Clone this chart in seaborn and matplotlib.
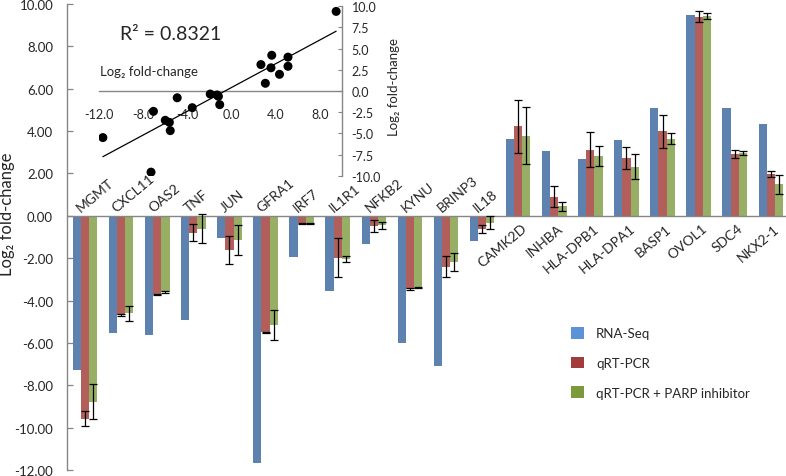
"""
RNA-Seq vs qRT-PCR fold-change validation
==========================================
Grouped bars with error bars plus an inset correlation scatter.
"""

import numpy as np
import pandas as pd
import matplotlib
matplotlib.use("Agg")
import matplotlib.pyplot as plt
from matplotlib.patches import Patch
import seaborn as sns

sns.set_style("white")
plt.rcParams["font.family"] = ["Lato", "DejaVu Sans"]

GENES = ["MGMT", "CXCL11", "OAS2", "TNF", "JUN", "GFRA1", "IRF7", "IL1R1",
         "NFKB2", "KYNU", "BRINP3", "IL18", "CAMK2D", "INHBA", "HLA-DPB1",
         "HLA-DPA1", "BASP1", "OVOL1", "SDC4", "NKX2-1"]

rna_seq = [-7.29, -5.55, -5.63, -4.92, -1.07, -11.65, -1.93, -3.56, -1.32, -6.00,
           -7.07, -1.19, 3.64, 3.06, 2.66, 3.57, 5.11, 9.47, 5.11, 4.34]
qpcr = [-9.58, -4.68, -3.70, -0.80, -1.61, -5.50, -0.36, -1.97, -0.47, -3.46,
        -2.40, -0.63, 4.22, 0.91, 3.12, 2.74, 4.00, 9.40, 2.92, 1.97]
qpcr_err = [0.36, 0.03, 0.03, 0.40, 0.67, 0.03, 0.03, 0.90, 0.28, 0.03,
            0.50, 0.18, 1.25, 0.48, 0.82, 0.52, 0.78, 0.25, 0.18, 0.13]
parp = [-8.78, -4.60, -3.60, -0.60, -1.14, -5.16, -0.36, -2.05, -0.45, -3.37,
        -2.19, -0.33, 3.79, 0.44, 2.81, 2.32, 3.65, 9.44, 2.95, 1.50]
parp_err = [0.83, 0.35, 0.03, 0.70, 0.70, 0.72, 0.02, 0.15, 0.15, 0.02,
            0.43, 0.30, 1.35, 0.23, 0.48, 0.58, 0.27, 0.13, 0.10, 0.45]

SERIES = ["RNA-Seq", "qRT-PCR", "qRT-PCR + PARP inhibitor"]
BAR_COLORS = ["#4F81BD", "#C0504D", "#9BBB59"]
LEGEND_COLORS = ["#5B93D6", "#A23C3A", "#7C9A3C"]
AXIS_GRAY = "#868686"

df = pd.DataFrame({
    "gene": GENES * 3,
    "series": np.repeat(SERIES, len(GENES)),
    "value": rna_seq + qpcr + parp,
})

fig = plt.figure(figsize=(7.86, 4.77), dpi=100)
ax = fig.add_axes([67 / 786, 6 / 477, 719 / 786, 466 / 477])

sns.barplot(data=df, x="gene", y="value", hue="series", order=GENES,
            hue_order=SERIES, palette=BAR_COLORS, width=0.68, linewidth=0,
            errorbar=None, legend=False, ax=ax)

# error bars on the two qRT-PCR series
for cont, vals, errs in [(ax.containers[1], qpcr, qpcr_err),
                         (ax.containers[2], parp, parp_err)]:
    xs = [p.get_x() + p.get_width() / 2 for p in cont.patches]
    ax.errorbar(xs, vals, yerr=errs, fmt="none", ecolor="black",
                elinewidth=0.9, capsize=2.6, capthick=0.9, zorder=5)

ax.axhline(0, color=AXIS_GRAY, lw=1.0, zorder=4)
ax.set_xlim(-0.5, 19.42)
ax.set_ylim(-12, 10)
ax.set_yticks(np.arange(-12, 10.1, 2))
ax.set_yticklabels([f"{v:.2f}" for v in np.arange(-12, 10.1, 2)], fontsize=9.5)
ax.tick_params(axis="y", direction="in", length=4, width=0.9, color=AXIS_GRAY,
               pad=10, left=True)
ax.set_xticks([])
ax.set_xlabel("")
ax.set_ylabel("Log₂ fold-change", fontsize=12)
ax.yaxis.set_label_coords(-0.072, 0.55)
for side in ["top", "right", "bottom"]:
    ax.spines[side].set_visible(False)
ax.spines["left"].set_color(AXIS_GRAY)
ax.spines["left"].set_linewidth(1.0)

# gene labels: above the zero line for down-regulated, below for up-regulated
for i, (gene, v) in enumerate(zip(GENES, rna_seq)):
    if v < 0:
        ax.text(i - 0.12, 0.2, gene, rotation=40, rotation_mode="anchor",
                ha="left", va="baseline", fontsize=10)
    else:
        ax.text(i + 0.08, -0.28, gene, rotation=40, rotation_mode="anchor",
                ha="right", va="top", fontsize=10)

handles = [Patch(facecolor=c, edgecolor="none") for c in LEGEND_COLORS]
ax.legend(handles, SERIES, loc="upper left", bbox_to_anchor=(571 / 786, 1 - 328 / 477),
          bbox_transform=fig.transFigure, frameon=False, fontsize=9.5,
          handlelength=0.95, handleheight=1.0, handletextpad=0.95,
          labelspacing=1.3, borderpad=0, borderaxespad=0)

# inset: RNA-Seq vs qRT-PCR correlation
ins = fig.add_axes([99 / 786, (477 - 176.7) / 477, 243 / 786, 169.4 / 477])
ins.patch.set_alpha(0)
sns.scatterplot(x=rna_seq, y=qpcr, color="black", s=42, edgecolor="none",
                zorder=5, ax=ins)
slope, intercept = np.polyfit(rna_seq, qpcr, 1)
line_x = np.array([min(rna_seq), max(rna_seq)])
ins.plot(line_x, slope * line_x + intercept, color="black", lw=0.9, zorder=4)

ins.set_xlim(-12, 10)
ins.set_ylim(-10, 10)
ins.spines["left"].set_visible(False)
ins.spines["top"].set_visible(False)
ins.spines["bottom"].set_position(("data", 0))
for side in ["bottom", "right"]:
    ins.spines[side].set_color(AXIS_GRAY)
    ins.spines[side].set_linewidth(1.0)
ins.set_xticks([-12, -8, -4, 0, 4, 8])
ins.set_xticklabels([f"{v:.1f}" for v in [-12, -8, -4, 0, 4, 8]], fontsize=9)
ins.set_yticks(np.arange(-10, 10.1, 2.5))
ins.set_yticklabels([f"{v:.1f}" for v in np.arange(-10, 10.1, 2.5)], fontsize=9)
ins.yaxis.tick_right()
ins.tick_params(axis="x", direction="out", length=4, color=AXIS_GRAY, pad=8)
ins.tick_params(axis="y", direction="in", length=3, color=AXIS_GRAY, pad=7,
                left=False, right=True)
ins.yaxis.set_label_position("right")
ins.set_ylabel("Log₂ fold-change", fontsize=9.5, rotation=90)
ins.yaxis.set_label_coords(1.19, 0.53)
ins.text(0.004, 0.62, "Log₂ fold-change", transform=ins.transAxes,
         ha="left", va="center", fontsize=9.5)
ins.text(0.086, 0.84, "R² = 0.8321", transform=ins.transAxes,
         ha="left", va="center", fontsize=14)

fig.savefig("out.png", dpi=100)
